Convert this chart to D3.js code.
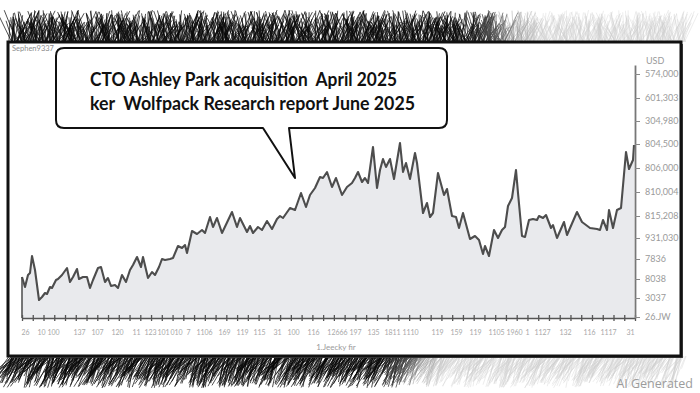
<!DOCTYPE html>
<html>
<head>
<meta charset="utf-8">
<script src="https://cdn.jsdelivr.net/npm/d3@7"></script>
<style>
  html, body { margin: 0; padding: 0; background: #fff; }
  svg { display: block; }
  .callout { white-space: pre; }
</style>
</head>
<body>
<svg id="chart" width="700" height="393"></svg>
<script>
'use strict'

// ---------------------------------------------------------------------
// ---------------------------------------------------------- DATA -----

// day offset along the x axis and the price level
let days = [0, 3, 6, 8, 10, 13, 17, 20, 23, 25, 28, 30, 34, 36, 40, 45, 48, 51, 55, 57,
  61, 65, 68, 71, 76, 79, 83, 86, 89, 93, 96, 100, 104, 108, 111, 115, 119, 121, 126, 130,
  133, 137, 140, 143, 148, 151, 156, 160, 163, 165, 170, 175, 180, 183, 188, 191, 195, 200, 210, 215,
  218, 225, 228, 231, 236, 240, 245, 250, 255, 258, 261, 268, 273, 279, 284, 288, 293, 298, 301, 305,
  310, 314, 320, 325, 330, 333, 336, 340, 343, 346, 351, 355, 358, 361, 364, 368, 372, 378, 381, 384,
  388, 393, 395, 401, 405, 408, 411, 416, 422, 425, 430, 434, 437, 441, 448, 453, 457, 461, 463, 467,
  472, 476, 480, 483, 486, 490, 494, 496, 500, 503, 507, 511, 515, 517, 521, 524, 529, 531, 535, 542,
  545, 555, 560, 568, 575, 578, 581, 585, 587, 591, 595, 599, 604, 607, 611, 612]

let prices = [41, 31, 43, 45, 62, 48, 18, 21, 25, 24, 31, 30, 38, 39, 43, 50, 36, 41, 49, 39,
  41, 41, 30, 38, 50, 51, 36, 40, 32, 33, 30, 43, 36, 48, 53, 61, 51, 61, 40, 46,
  43, 51, 59, 58, 59, 60, 72, 70, 73, 65, 87, 84, 88, 85, 101, 91, 100, 85, 106, 91,
  100, 86, 92, 85, 91, 88, 97, 89, 99, 102, 100, 110, 108, 125, 111, 123, 130, 141, 140, 146,
  131, 140, 123, 131, 135, 140, 146, 136, 140, 135, 171, 130, 148, 159, 151, 159, 139, 175, 146, 155,
  139, 165, 155, 105, 115, 101, 105, 145, 123, 129, 102, 101, 90, 105, 79, 82, 78, 64, 72, 62,
  88, 80, 88, 91, 112, 120, 148, 125, 82, 81, 98, 99, 98, 102, 100, 103, 90, 93, 80, 96,
  83, 106, 96, 90, 89, 88, 98, 88, 108, 90, 108, 110, 166, 149, 158, 173]

let yTickValues = [1, 20, 39, 59, 80, 102, 126, 150, 174, 197, 220, 244]
let yTickLabels = ['26.JW', '3037', '8038', '7836', '931,030', '815,208', '810,004',
  '806,000', '804,500', '304,980', '601,303', '574,000']

let xLabelDays = [3, 19, 31, 57, 75, 95, 114, 128, 141, 154, 166, 182, 202, 220, 237, 255, 271,
  291, 315, 333, 351, 370, 388, 415, 434, 453, 474, 492, 505, 520, 543, 567, 586, 608]
let xLabels = ['26', '10', '100', '137', '107', '120', '11', '123', '101', '010', '7', '1106',
  '169', '119', '115', '31', '100', '116', '12666', '197', '135', '1811', '1110', '119', '159',
  '119', '1105', '1960', '1', '1127', '132', '116', '1117', '31']

let calloutLines = ['CTO Ashley Park acquisition  April 2025',
  'ker  Wolfpack Research report June 2025']

let data = days.map((d, i) => ({day: d, price: prices[i]}))

// ---------------------------------------------------------------------
// --------------------------------------------------- POSITIONS -------

let svg = d3.select('#chart')
let font = 'Lato, "Open Sans", sans-serif'

let frame = {x: 8, y: 42, w: 673, h: 314}
let plotLeft = 22
let plotRight = 635
let plotBottom = 318
let plotTop = 65

// ---------------------------------------------------------------------
// ---------------------------------------------- HAIR DECORATION ------

function hash(i) {
  let s = Math.sin(i * 12.9898 + 78.233) * 43758.5453
  return s - Math.floor(s)
}

let darkToLight = d3.interpolateRgb('#0a0a0a', '#cfcfcf')
let hairG = svg.append('g')

function hairBand(seed, count, baseY, dir, fadeStart, fadeEnd, lenMin, lenVar, leanMin, leanVar) {
  for(let i = 0; i < count; i++) {
    let x = frame.x + (i / count) * 674 + hash(seed + i) * 5
    let fade = Math.max(0, Math.min(1, (x - fadeStart) / (fadeEnd - fadeStart)))
    let len = lenMin + hash(seed + i + 3) * lenVar
    let lean = leanMin + hash(seed + i + 7) * leanVar
    hairG.append('line')
      .attr('x1', x).attr('y1', baseY)
      .attr('x2', x + lean).attr('y2', baseY + dir * len)
      .attr('stroke', darkToLight(fade))
      .attr('stroke-width', fade > 0.5 ? 0.5 : 0.8)
      .attr('opacity', fade > 0.5 ? 0.75 : 0.9)
  }
}

hairBand(0, 1400, frame.y, -1, 470, 540, 14, 18, -14, 30)
hairBand(5000, 1400, frame.y + frame.h, 1, 390, 450, 12, 20, -22, 18)

// ---------------------------------------------------------------------
// ------------------------------------------------------- FRAME -------

svg.append('rect')
  .attr('x', frame.x + 2).attr('y', frame.y + 2)
  .attr('width', frame.w).attr('height', frame.h)
  .attr('fill', '#555')

svg.append('rect')
  .attr('x', frame.x).attr('y', frame.y)
  .attr('width', frame.w).attr('height', frame.h)
  .attr('fill', '#fff')
  .attr('stroke', '#111')
  .attr('stroke-width', 3)

svg.append('text')
  .attr('x', 12).attr('y', 51)
  .attr('font-family', font).attr('font-size', 7.5)
  .attr('fill', '#8a8a8a')
  .text('Sephen9337')

// ---------------------------------------------------------------------
// ------------------------------------------------------ SCALES -------

let x = d3.scaleLinear()
  .domain([0, 613])
  .range([plotLeft, plotRight])

let y = d3.scaleLinear()
  .domain([0, plotBottom - plotTop])
  .range([plotBottom, plotTop])

// ---------------------------------------------------------------------
// ------------------------------------------------ DISPLAY DATA -------

let area = d3.area()
  .x(d => x(d.day))
  .y0(y(0))
  .y1(d => y(d.price))

let line = d3.line()
  .x(d => x(d.day))
  .y(d => y(d.price))

svg.append('path')
  .datum(data)
  .attr('d', area)
  .attr('fill', '#e9eaed')

svg.append('line')
  .attr('x1', x(data[0].day)).attr('x2', x(data[0].day))
  .attr('y1', y(0)).attr('y2', y(data[0].price))
  .attr('stroke', '#555').attr('stroke-width', 1.6)

svg.append('path')
  .datum(data)
  .attr('d', line)
  .attr('fill', 'none')
  .attr('stroke', '#4d4d4d')
  .attr('stroke-width', 2.1)
  .attr('stroke-linejoin', 'round')

// ---------------------------------------------------------------------
// --------------------------------------------------------- AXIS ------

let xTicks = d3.range(0, 58).map(i => i * 613 / 57)

let xAxis = svg.append('g')
  .attr('transform', 'translate(0,' + plotBottom + ')')
  .call(d3.axisBottom(x).tickValues(xTicks).tickFormat('').tickSizeOuter(0).tickSizeInner(3))

xAxis.select('.domain').attr('stroke', '#555').attr('stroke-width', 1.6)
xAxis.selectAll('.tick line')
  .attr('y1', -3).attr('y2', 3)
  .attr('stroke', '#555').attr('stroke-width', 1.3)

let xLabelAxis = svg.append('g')
  .attr('transform', 'translate(0,' + (plotBottom + 9) + ')')
  .call(d3.axisBottom(x).tickValues(xLabelDays).tickFormat((d, i) => xLabels[i]).tickSize(0))

xLabelAxis.select('.domain').remove()
xLabelAxis.selectAll('text')
  .attr('font-family', font).attr('font-size', 7)
  .attr('fill', '#a8a8a8')

svg.append('text')
  .attr('x', 336).attr('y', 350)
  .attr('text-anchor', 'middle')
  .attr('font-family', font).attr('font-size', 8)
  .attr('fill', '#9a9a9a')
  .text('1.Jeecky fir')

let yAxis = svg.append('g')
  .attr('transform', 'translate(' + plotRight + ',0)')
  .call(d3.axisRight(y).tickValues(yTickValues).tickFormat((d, i) => yTickLabels[i])
    .tickSizeOuter(0).tickSizeInner(5).tickPadding(5))

yAxis.select('.domain').attr('stroke', '#777').attr('stroke-width', 1.8)
yAxis.selectAll('.tick line').attr('stroke', '#888').attr('stroke-width', 1)
yAxis.selectAll('text')
  .attr('font-family', font).attr('font-size', 9)
  .attr('fill', '#9a9a9a')

svg.append('text')
  .attr('x', 646).attr('y', 64)
  .attr('font-family', font).attr('font-size', 9)
  .attr('fill', '#9a9a9a')
  .text('USD')

// ---------------------------------------------------------------------
// ------------------------------------------------------ CALLOUT ------

let bubblePath = 'M64,48 H439 Q447,48 447,56 V120 Q447,128 439,128 H289 ' +
  'L295,178 L263,128 H64 Q56,128 56,120 V56 Q56,48 64,48 Z'

svg.append('path')
  .attr('d', bubblePath)
  .attr('fill', '#fff')
  .attr('stroke', '#111')
  .attr('stroke-width', 2)
  .attr('stroke-linejoin', 'round')

let lineWidths = [307, 325]

svg.selectAll('.callout')
  .data(calloutLines)
  .enter()
  .append('text')
    .attr('class', 'callout')
    .attr('x', 90)
    .attr('y', (d, i) => 86 + i * 24)
    .attr('font-family', font)
    .attr('font-size', 19)
    .attr('font-weight', 700)
    .attr('fill', '#111')
    .attr('textLength', (d, i) => lineWidths[i])
    .attr('lengthAdjust', 'spacingAndGlyphs')
    .text(d => d)

svg.append('text')
  .attr('x', 693).attr('y', 388)
  .attr('text-anchor', 'end')
  .attr('font-family', '"Open Sans", sans-serif').attr('font-size', 12.5)
  .attr('fill', '#9c9c9c')
  .text('AI Generated')
</script>
</body>
</html>
